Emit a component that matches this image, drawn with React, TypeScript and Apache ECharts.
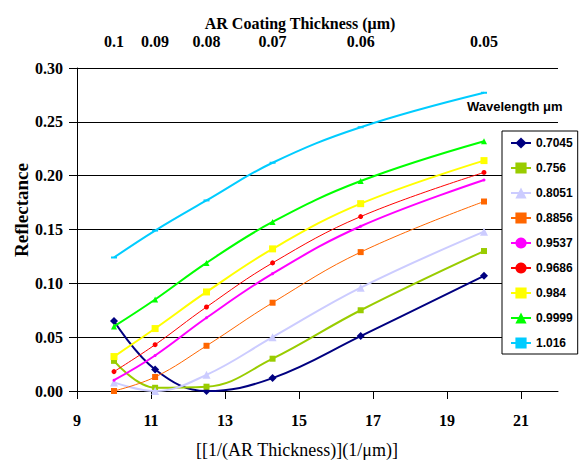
import React, { useEffect, useRef } from "react";
import * as echarts from "echarts";

const thickness = [0.1, 0.09, 0.08, 0.07, 0.06, 0.05];
const invThickness = thickness.map((t) => 1 / t);
const xTicks = [9, 11, 13, 15, 17, 19, 21];

const wavelengths = ["0.7045", "0.756", "0.8051", "0.8856", "0.9537", "0.9686", "0.984", "0.9999", "1.016"];

const r0_7045 = [0.065, 0.02, 0.0, 0.012, 0.051, 0.107];
const r0_756 = [0.028, 0.003, 0.004, 0.03, 0.075, 0.13];
const r0_8051 = [0.008, 0.0, 0.015, 0.05, 0.096, 0.148];
const r0_8856 = [0.0, 0.013, 0.042, 0.082, 0.129, 0.176];
const r0_9537 = [0.01, 0.033, 0.068, 0.109, 0.153, 0.196];
const r0_9686 = [0.018, 0.043, 0.078, 0.119, 0.162, 0.203];
const r0_984 = [0.032, 0.058, 0.092, 0.132, 0.174, 0.214];
const r0_9999 = [0.06, 0.085, 0.119, 0.157, 0.195, 0.232];
const r1_016 = [0.124, 0.149, 0.177, 0.212, 0.245, 0.277];

const seriesValues = [r0_7045, r0_756, r0_8051, r0_8856, r0_9537, r0_9686, r0_984, r0_9999, r1_016];

const styles = [
  { color: "#000080", width: 2, symbol: "diamond", size: 8 },
  { color: "#99CC00", width: 2, symbol: "rect", size: 6 },
  { color: "#CCCCFF", width: 2, symbol: "triangle", size: 8 },
  { color: "#FF6600", width: 1, symbol: "rect", size: 6 },
  { color: "#FF00FF", width: 2, symbol: "circle", size: 3 },
  { color: "#FF0000", width: 1, symbol: "circle", size: 5 },
  { color: "#FFFF00", width: 2, symbol: "rect", size: 7 },
  { color: "#00FF00", width: 2, symbol: "triangle", size: 6 },
  { color: "#00CCFF", width: 2, symbol: "rect", size: [6, 2] },
];

const serif = "Liberation Serif";
const sans = "Liberation Sans";

export default function App() {
  const ref = useRef<HTMLDivElement>(null);
  useEffect(() => {
    if (!ref.current) return;
    const chart = echarts.init(ref.current, null, { renderer: "svg" });
    const labelFont = { color: "#000", fontFamily: serif, fontWeight: "bold" as const, fontSize: 16 };
    const option = {
      animation: false,
      backgroundColor: "#ffffff",
      grid: { left: 77, top: 68, right: 29, bottom: 74, containLabel: false },
      xAxis: [
        {
          type: "value",
          min: 9,
          max: 22,
          position: "bottom",
          axisLine: { show: true, lineStyle: { color: "#000", width: 1 } },
          axisTick: { show: true, length: 8, customValues: xTicks, lineStyle: { color: "#000" } },
          axisLabel: { customValues: xTicks, margin: 21, ...labelFont },
          splitLine: { show: false },
        },
        {
          type: "value",
          min: 9,
          max: 22,
          position: "top",
          axisLine: { show: false },
          axisTick: { show: false },
          splitLine: { show: false },
          axisLabel: {
            customValues: invThickness,
            margin: 19,
            ...labelFont,
            formatter: (v: number) => {
              const idx = invThickness.findIndex((x) => Math.abs(x - v) < 1e-6);
              return idx >= 0 ? String(thickness[idx]) : "";
            },
          },
        },
      ],
      yAxis: {
        type: "value",
        min: 0,
        max: 0.3,
        interval: 0.05,
        axisLine: { show: true, lineStyle: { color: "#000", width: 1 } },
        axisTick: { show: true, length: 8, lineStyle: { color: "#000" } },
        axisLabel: { margin: 14, ...labelFont, formatter: (v: number) => v.toFixed(2) },
        splitLine: { show: true, lineStyle: { color: "#000", width: 1 } },
      },
      legend: {
        orient: "vertical",
        left: 502,
        top: 131,
        padding: [6, 5, 5, 8],
        itemGap: 13,
        itemWidth: 20,
        itemHeight: 14,
        borderColor: "#000",
        borderWidth: 1,
        backgroundColor: "#fff",
        textStyle: { fontFamily: sans, fontWeight: "bold", fontSize: 12, color: "#000" },
        data: wavelengths,
      },
      graphic: [
        {
          type: "text",
          x: 300,
          y: 23,
          style: {
            text: "AR Coating Thickness (μm)",
            fill: "#000",
            fontFamily: serif,
            fontWeight: "bold",
            fontSize: 16,
            textAlign: "center",
            textVerticalAlign: "middle",
          },
        },
        {
          type: "text",
          x: 467,
          y: 106,
          style: {
            text: "Wavelength μm",
            fill: "#000",
            fontFamily: sans,
            fontWeight: "bold",
            fontSize: 13,
            textAlign: "left",
            textVerticalAlign: "middle",
          },
        },
        {
          type: "text",
          x: 297,
          y: 450,
          style: {
            text: "[[1/(AR Thickness)](1/μm)]",
            fill: "#000",
            fontFamily: serif,
            fontSize: 18,
            textAlign: "center",
            textVerticalAlign: "middle",
          },
        },
        {
          type: "text",
          x: 21,
          y: 210,
          rotation: Math.PI / 2,
          style: {
            text: "Reflectance",
            fill: "#000",
            fontFamily: serif,
            fontWeight: "bold",
            fontSize: 19,
            textAlign: "center",
            textVerticalAlign: "middle",
          },
        },
      ],
      series: wavelengths.map((name, k) => ({
        name,
        type: "line",
        xAxisIndex: 0,
        yAxisIndex: 0,
        smooth: 0.4,
        data: invThickness.map((x, i) => [x, seriesValues[k][i]]),
        symbol: styles[k].symbol,
        symbolSize: styles[k].size,
        lineStyle: { color: styles[k].color, width: styles[k].width },
        itemStyle: { color: styles[k].color },
        z: 2 + k,
      })),
    };
    chart.setOption(option as any);
    return () => chart.dispose();
  }, []);
  return (
    <div
      ref={ref}
      style={{ position: "fixed", left: 0, top: 0, width: 587, height: 465 }}
    />
  );
}
